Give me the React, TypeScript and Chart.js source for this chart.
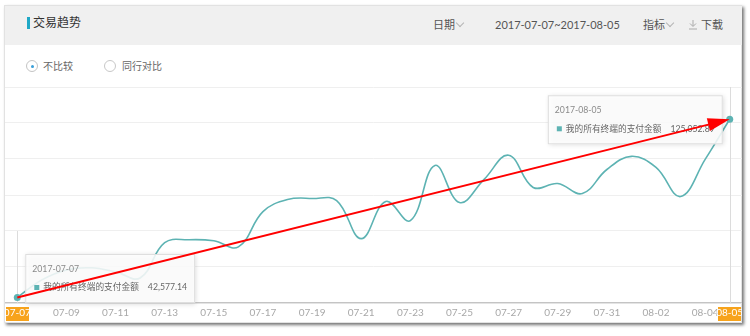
import React, { useEffect, useRef } from "react";
import { Chart, registerables } from "chart.js";

Chart.register(...registerables);

const DATES: string[] = [
  "07-07", "07-08", "07-09", "07-10", "07-11", "07-12", "07-13", "07-14", "07-15", "07-16",
  "07-17", "07-18", "07-19", "07-20", "07-21", "07-22", "07-23", "07-24", "07-25", "07-26",
  "07-27", "07-28", "07-29", "07-30", "07-31", "08-01", "08-02", "08-03", "08-04", "08-05",
];
const PAY_AMOUNT: number[] = [
  42577.14, 50700, 55300, 56300, 54400, 51600, 67900, 69300, 68800, 66000,
  82300, 87900, 88400, 87400, 69800, 87000, 78100, 103700, 86500, 97200,
  108400, 93500, 95300, 90700, 101800, 107900, 102800, 89300, 106500, 125052.89,
];
const SERIES_NAME = "我的所有终端的支付金额";
const YEAR = "2017";
const Y_MIN = 40000;
const Y_MAX = 140000;

const LINE_COLOR = "#5db3b3";
const ORANGE = "#f7a31c";
const FONT = 'Lato, "Noto Sans CJK SC", sans-serif';
const TIP_FONT = `8.7px ${FONT}`;

function fmt(v: number): string {
  return v.toLocaleString("en-US", { minimumFractionDigits: 2, maximumFractionDigits: 2 });
}

function tipWidth(ctx: CanvasRenderingContext2D, value: number) {
  ctx.save();
  ctx.font = TIP_FONT;
  const w = 18 + ctx.measureText(SERIES_NAME).width + 9 + ctx.measureText(fmt(value)).width + 8;
  ctx.restore();
  return w;
}

function drawTip(ctx: CanvasRenderingContext2D, left: number, top: number, date: string, value: number) {
  ctx.save();
  ctx.font = TIP_FONT;
  const nameW = ctx.measureText(SERIES_NAME).width;
  const valText = fmt(value);
  const w = tipWidth(ctx, value);
  const h = 49;
  ctx.shadowColor = "rgba(0,0,0,0.18)";
  ctx.shadowBlur = 5;
  ctx.shadowOffsetX = 1;
  ctx.shadowOffsetY = 1;
  ctx.fillStyle = "rgba(255,255,255,0.86)";
  ctx.fillRect(left, top, w, h);
  ctx.shadowColor = "transparent";
  ctx.strokeStyle = "#dedede";
  ctx.lineWidth = 1;
  ctx.strokeRect(left + 0.5, top + 0.5, w - 1, h - 1);
  ctx.textBaseline = "middle";
  ctx.fillStyle = "#8a8a8a";
  ctx.fillText(date, left + 7, top + 15);
  ctx.fillStyle = LINE_COLOR;
  ctx.fillRect(left + 9, top + 31, 5, 5);
  ctx.fillStyle = "#666";
  ctx.fillText(SERIES_NAME, left + 18, top + 33.5);
  ctx.fillText(valText, left + 18 + nameW + 9, top + 33.5);
  ctx.restore();
}

const overlayPlugin = {
  id: "overlay",
  beforeDraw(chart: any) {
    const ctx: CanvasRenderingContext2D = chart.ctx;
    const xs = chart.scales.x;
    const last = DATES.length - 1;
    ctx.save();
    ctx.fillStyle = ORANGE;
    [0, last].forEach((i) => {
      const px = xs.getPixelForValue(i);
      ctx.fillRect(Math.round(px - 11.5), xs.top + 4, 23, 14);
    });
    ctx.restore();
  },
  beforeDatasetsDraw(chart: any) {
    const ctx: CanvasRenderingContext2D = chart.ctx;
    const xs = chart.scales.x;
    const ys = chart.scales.y;
    const area = chart.chartArea;
    const last = DATES.length - 1;
    ctx.save();
    ctx.strokeStyle = "#dcdcdc";
    ctx.lineWidth = 1;
    const x0 = Math.round(xs.getPixelForValue(0)) + 0.5;
    const startY = ys.ticks.length > 2 ? ys.getPixelForValue(ys.ticks[2].value) : area.top;
    ctx.beginPath();
    ctx.moveTo(x0, startY);
    ctx.lineTo(x0, area.bottom);
    const x1 = Math.round(xs.getPixelForValue(last)) + 0.5;
    ctx.moveTo(x1, area.top);
    ctx.lineTo(x1, area.bottom);
    ctx.stroke();
    ctx.restore();
  },
  afterDraw(chart: any) {
    const ctx: CanvasRenderingContext2D = chart.ctx;
    const meta = chart.getDatasetMeta(0);
    const last = DATES.length - 1;
    const p0 = meta.data[0];
    const p1 = meta.data[last];
    const area = chart.chartArea;

    drawTip(ctx, p0.x + 8, area.bottom - 49, `${YEAR}-${DATES[0]}`, PAY_AMOUNT[0]);
    const w2 = tipWidth(ctx, PAY_AMOUNT[last]);
    drawTip(ctx, p1.x - 7 - w2, p1.y - 24, `${YEAR}-${DATES[last]}`, PAY_AMOUNT[last]);

    const dx = p1.x - p0.x;
    const dy = p1.y - p0.y;
    const len = Math.sqrt(dx * dx + dy * dy);
    const ux = dx / len;
    const uy = dy / len;
    const headL = 22;
    const headW = 6.5;
    const bx = p1.x - ux * headL;
    const by = p1.y - uy * headL;
    ctx.save();
    ctx.strokeStyle = "#ff0000";
    ctx.fillStyle = "#ff0000";
    ctx.lineWidth = 2;
    ctx.beginPath();
    ctx.moveTo(p0.x, p0.y);
    ctx.lineTo(bx + ux * 2, by + uy * 2);
    ctx.stroke();
    ctx.beginPath();
    ctx.moveTo(p1.x, p1.y);
    ctx.lineTo(bx - uy * headW, by + ux * headW);
    ctx.lineTo(bx + uy * headW, by - ux * headW);
    ctx.closePath();
    ctx.fill();
    ctx.restore();
  },
};

function ChartCanvas() {
  const ref = useRef<HTMLCanvasElement | null>(null);
  useEffect(() => {
    if (!ref.current) return;
    const last = DATES.length - 1;
    const chart = new Chart(ref.current, {
      type: "line",
      data: {
        labels: DATES,
        datasets: [
          {
            label: SERIES_NAME,
            data: PAY_AMOUNT,
            borderColor: LINE_COLOR,
            backgroundColor: LINE_COLOR,
            borderWidth: 1.6,
            tension: 0.4,
            fill: false,
            pointRadius: (c: any) => (c.dataIndex === 0 || c.dataIndex === last ? 3.5 : 0),
            pointBackgroundColor: LINE_COLOR,
            pointBorderColor: LINE_COLOR,
            pointBorderWidth: 0,
          },
        ],
      },
      options: {
        animation: false,
        responsive: false,
        devicePixelRatio: 1,
        layout: { autoPadding: false, padding: { top: 1, left: 0, right: 0, bottom: 0 } },
        plugins: { legend: { display: false }, tooltip: { enabled: false } },
        events: [],
        scales: {
          x: {
            offset: true,
            grid: { display: false, drawTicks: false },
            border: { display: true, color: "#c4c4c4", width: 1.2 },
            afterFit: (s: any) => {
              s.height = 20;
              s.paddingLeft = 0;
              s.paddingRight = 0;
            },
            ticks: {
              autoSkip: false,
              maxRotation: 0,
              minRotation: 0,
              padding: 4,
              font: { size: 10, family: FONT },
              color: (c: any) => (c.index === 0 || c.index === last ? "#ffffff" : "#a8a8a8"),
              callback: (_v: any, i: number) => (i % 2 === 0 || i === last ? DATES[i] : ""),
            },
          },
          y: {
            min: Y_MIN,
            max: Y_MAX,
            grid: { color: "#efefef", drawTicks: false, lineWidth: 1 },
            border: { display: false },
            ticks: { display: false, count: 7 },
            afterFit: (s: any) => {
              s.width = 0;
              s.paddingTop = 0;
              s.paddingBottom = 0;
            },
          },
        },
      },
      plugins: [overlayPlugin],
    } as any);
    return () => chart.destroy();
  }, []);
  return (
    <canvas
      ref={ref}
      width={737}
      height={237}
      style={{ position: "absolute", left: 5, top: 86, width: 737, height: 237 }}
    />
  );
}

function Chevron({ left, top }: { left: number; top: number }) {
  return (
    <div
      style={{
        position: "absolute",
        left,
        top,
        width: 5,
        height: 5,
        borderRight: "1px solid #b5b5b5",
        borderBottom: "1px solid #b5b5b5",
        transform: "rotate(45deg)",
      }}
    />
  );
}

export default function App() {
  const txt = (left: number, top: number, size: number, color: string, s: string) => (
    <div
      style={{
        position: "absolute",
        left,
        top,
        fontSize: size,
        lineHeight: `${size + 2}px`,
        color,
        fontFamily: FONT,
        whiteSpace: "nowrap",
      }}
    >
      {s}
    </div>
  );
  return (
    <div style={{ position: "fixed", left: 0, top: 0, width: 750, height: 336, background: "#fff", overflow: "hidden" }}>
      <div
        style={{
          position: "absolute",
          left: 4,
          top: 5,
          width: 738,
          height: 318,
          boxSizing: "border-box",
          border: "1px solid #e2e2e2",
          background: "#fff",
          boxShadow: "2px 2px 3px rgba(0,0,0,0.55)",
        }}
      />
      <div style={{ position: "absolute", left: 5, top: 6, width: 737, height: 39, background: "#f0f0f0" }} />
      <div style={{ position: "absolute", left: 27, top: 17, width: 3, height: 12, background: "#1fa8c6" }} />
      {txt(33, 16, 12, "#333", "交易趋势")}
      {txt(433, 18, 11, "#555", "日期")}
      <Chevron left={457} top={20} />
      {txt(495, 18, 11, "#555", "2017-07-07~2017-08-05")}
      {txt(643, 18, 11, "#555", "指标")}
      <Chevron left={667} top={20} />
      <svg style={{ position: "absolute", left: 688, top: 19 }} width="10" height="11">
        <path d="M5 1 V7 M2 4.5 L5 7.5 L8 4.5 M1 10 H9" stroke="#aaa" strokeWidth="1" fill="none" />
      </svg>
      {txt(701, 18, 11, "#555", "下载")}

      <div
        style={{
          position: "absolute",
          left: 26,
          top: 60,
          width: 12,
          height: 12,
          boxSizing: "border-box",
          borderRadius: "50%",
          border: "1px solid #c4c4c4",
          background: "#fff",
        }}
      >
        <div style={{ position: "absolute", left: 3.5, top: 3.5, width: 3, height: 3, borderRadius: "50%", background: "#3a9fd8" }} />
      </div>
      {txt(43, 60, 10, "#666", "不比较")}
      <div
        style={{
          position: "absolute",
          left: 104,
          top: 60,
          width: 12,
          height: 12,
          boxSizing: "border-box",
          borderRadius: "50%",
          border: "1px solid #c8c8c8",
          background: "#fff",
        }}
      />
      {txt(122, 60, 10, "#666", "同行对比")}
      <ChartCanvas />
    </div>
  );
}
